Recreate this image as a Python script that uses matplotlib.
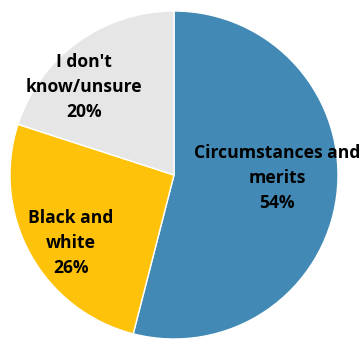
import matplotlib
matplotlib.use('Agg')
import matplotlib.pyplot as plt

# datos del grafico
labels = ['Circumstances and\nmerits', 'Black and\nwhite', "I don't\nknow/unsure"]
values = [54, 26, 20]
colors = ['#428AB5', '#FFC20A', '#E6E6E6']

# posiciones de etiquetas (px, origen arriba-izquierda)
label_pos = [(277, 178), (71, 243), (84, 87)]

W, H = 363, 339
fig = plt.figure(figsize=(W / 100, H / 100), dpi=100)
ax = fig.add_axes([0, 0, 1, 1])

ax.pie(values, colors=colors, startangle=90, counterclock=False,
       center=(174, H - 175), radius=164,
       wedgeprops=dict(edgecolor='white', linewidth=1))

for lab, val, (x, y) in zip(labels, values, label_pos):
    ax.text(x, H - y, f'{lab}\n{val}%', ha='center', va='center',
            fontsize=12.6, fontweight='bold', family='Open Sans',
            linespacing=1.5, color='black')

ax.set_xlim(0, W)
ax.set_ylim(0, H)
ax.set_aspect('auto')
ax.axis('off')

fig.savefig('out.png', dpi=100)
